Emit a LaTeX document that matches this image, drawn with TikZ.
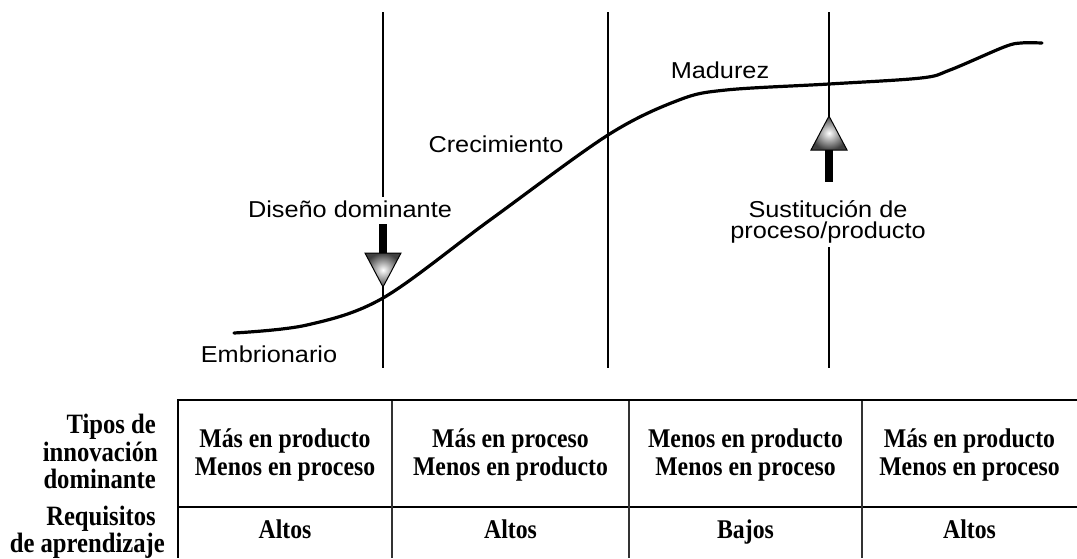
\documentclass[tikz,border=0pt]{standalone}
\usepackage{fontspec}
\setmainfont{Liberation Serif}[FakeStretch=0.88]
\newfontfamily\chartfont{Liberation Sans}[FakeStretch=1.1]
\begin{document}
\begin{tikzpicture}[x=1pt,y=-1pt,
  lbl/.style={font=\chartfont\fontsize{23}{26}\selectfont, inner sep=0, anchor=base},
  cell/.style={font=\bfseries\fontsize{27}{28}\selectfont, align=center, inner sep=0},
  rowlbl/.style={font=\bfseries\fontsize{28}{28}\selectfont, inner sep=0, anchor=base east},
  thinline/.style={line width=1.8pt},
  curveline/.style={line width=3.2pt, line cap=round},
  border/.style={line width=2.2pt},
  divider/.style={line width=1.4pt, draw=black!80},
  arrowhd/.style={draw=black, line width=1pt, inner color=white, outer color=black!75},
  shaft/.style={fill=black}]
\useasboundingbox (0,0) rectangle (1077,558);
% ---- vertical lines
\coordinate (a1) at (383,12);  \coordinate (a2) at (383,197);
\coordinate (a3) at (383,224); \coordinate (a4) at (383,368);
\coordinate (b1) at (608,12);  \coordinate (b2) at (608,368);
\coordinate (c1) at (829,12);  \coordinate (c2) at (829,182);
\coordinate (c3) at (829,247); \coordinate (c4) at (829,368);
\draw[thinline] (a1) -- (a2);
\draw[thinline] (a3) -- (a4);
\draw[thinline] (b1) -- (b2);
\draw[thinline] (c1) -- (c2);
\draw[thinline] (c3) -- (c4);
% ---- S curve
\draw[curveline] plot[smooth, tension=0.55] coordinates {(234,333) (307,325) (383,298) (490,220) (608,135) (679,100) (726,90) (829,84) (921,78) (950,70) (1004,47) (1021,43) (1042,43)};
% ---- arrow down (Diseno dominante)
\fill[shaft] (379,224) rectangle (387,254);
\shadedraw[arrowhd] (365,253) -- (401,253) -- (383,287) -- cycle;
% ---- arrow up (Sustitucion)
\fill[shaft] (825,148) rectangle (833,182);
\shadedraw[arrowhd] (811,150) -- (847,150) -- (829,116) -- cycle;
% ---- chart labels
\node[lbl] (mad) at (720,78) {Madurez};
\node[lbl] (cre) at (496,152) {Crecimiento};
\node[lbl] (dis) at (350,217) {Diseño dominante};
\node[lbl] (sus1) at (828,217) {Sustitución de};
\node[lbl] (sus2) at (828,238) {proceso/producto};
\node[lbl] (emb) at (269,362) {Embrionario};
% ---- table
\coordinate (tl) at (178,400); \coordinate (tr) at (1077,400);
\coordinate (ml) at (178,507); \coordinate (mr) at (1077,507);
\coordinate (bl) at (178,558);
\draw[border] (tr) -- (tl) -- (bl);
\draw[border] (ml) -- (mr);
\foreach \x/\n in {392/d1,629/d2,862/d3}{
  \coordinate (\n t) at (\x,401); \coordinate (\n b) at (\x,558);
  \draw[divider] (\n t) -- (\n b);
}
\node[cell] (r1c1) at (285,454.5) {Más en producto\\Menos en proceso};
\node[cell] (r1c2) at (510.5,454.5) {Más en proceso\\Menos en producto};
\node[cell] (r1c3) at (745.5,454.5) {Menos en producto\\Menos en proceso};
\node[cell] (r1c4) at (969.5,454.5) {Más en producto\\Menos en proceso};
\node[cell, anchor=base] (r2c1) at (285,538) {Altos};
\node[cell, anchor=base] (r2c2) at (510.5,538) {Altos};
\node[cell, anchor=base] (r2c3) at (745.5,538) {Bajos};
\node[cell, anchor=base] (r2c4) at (969.5,538) {Altos};
\node[rowlbl] (tip1) at (156,433) {Tipos de};
\node[rowlbl] (tip2) at (158,461) {innovación};
\node[rowlbl] (tip3) at (156,488) {dominante};
\node[rowlbl] (req1) at (156,525) {Requisitos};
\node[rowlbl] (req2) at (165,552) {de aprendizaje};
\end{tikzpicture}
\end{document}
